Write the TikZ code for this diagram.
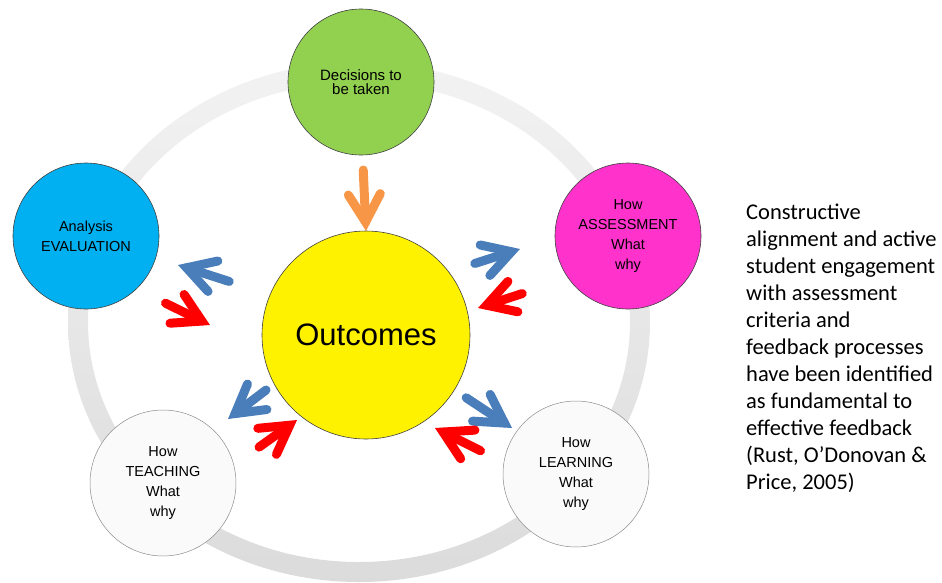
\documentclass[tikz,border=0pt]{standalone}
\usepackage{fontspec}
\setmainfont{Liberation Sans}
\newfontfamily\carlito{Carlito}
\usetikzlibrary{calc}

\definecolor{ringgreen}{HTML}{92D050}
\definecolor{ringcyan}{HTML}{00B0F0}
\definecolor{ringpink}{HTML}{FF33CC}
\definecolor{arrowblue}{HTML}{4A7EBB}
\definecolor{arroworange}{HTML}{F79646}

\tikzset{
  bubble/.style={circle, draw=black!75, line width=0.6pt, minimum size=146pt,
    inner sep=0pt, align=center, font=\fontsize{14.5}{20}\selectfont},
  whitebubble/.style={bubble, draw=black!45, line width=0.5pt, fill=black!2},
  fatstroke/.style={line width=9pt, line cap=round, line join=miter}
}

% thick arrow with open head: colour, tail, tip
\newcommand\bigarrow[3]{
  \coordinate (v) at ($(#3)!9pt!(#2)$);
  \draw[#1, fatstroke] ($(#2)!5pt!(#3)$) -- (v);
  \draw[#1, fatstroke] ($(v)!32pt!30:(#2)$) -- (v) -- ($(v)!32pt!-30:(#2)$);
}

\begin{document}
\begin{tikzpicture}[x=1pt,y=-1pt]
  \useasboundingbox (0,0) rectangle (942,582);
  % grey ring behind
  \shade[top color=black!5, bottom color=black!14, even odd rule]
    (359,322) ellipse [x radius=291, y radius=260]
    (359,322) ellipse [x radius=271, y radius=240];

  \node[bubble, fill=ringgreen, font=\fontsize{15}{14.5}\selectfont] (decide) at (361,82) {Decisions to\\be taken};
  \node[bubble, fill=ringcyan] (evaluate) at (86,236) {Analysis\\EVALUATION};
  \node[bubble, fill=ringpink] (assess) at (628,236) {How\\ASSESSMENT\\What\\why};
  \node[whitebubble] (teach) at (163,483) {How\\TEACHING\\What\\why};
  \node[whitebubble] (learn) at (576,474) {How\\LEARNING\\What\\why};
  \node[bubble, fill=yellow, minimum size=208pt, font=\fontsize{31}{36}\selectfont] (outcomes) at (366,335) {Outcomes};

  \coordinate (decideS) at (363,165);   \coordinate (decideE) at (366,231);
  \coordinate (toEvalS) at (234,283);   \coordinate (toEvalE) at (178,265);
  \coordinate (fromEvalS) at (161,301); \coordinate (fromEvalE) at (210,325);
  \coordinate (toAssS) at (470,265);    \coordinate (toAssE) at (520,249);
  \coordinate (fromAssS) at (527,292);  \coordinate (fromAssE) at (478,308);
  \coordinate (toTeachS) at (270,387);  \coordinate (toTeachE) at (228,419);
  \coordinate (fromTeachS) at (255,450);\coordinate (fromTeachE) at (297,420);
  \coordinate (toLearnS) at (462,395);  \coordinate (toLearnE) at (512,428);
  \coordinate (fromLearnS) at (485,453);\coordinate (fromLearnE) at (435,428);

  \bigarrow{arroworange}{decideS}{decideE}
  \bigarrow{arrowblue}{toEvalS}{toEvalE}
  \bigarrow{red}{fromEvalS}{fromEvalE}
  \bigarrow{arrowblue}{toAssS}{toAssE}
  \bigarrow{red}{fromAssS}{fromAssE}
  \bigarrow{arrowblue}{toTeachS}{toTeachE}
  \bigarrow{red}{fromTeachS}{fromTeachE}
  \bigarrow{arrowblue}{toLearnS}{toLearnE}
  \bigarrow{red}{fromLearnS}{fromLearnE}

  \node[anchor=north west, align=left, inner sep=0pt,
    font=\carlito\fontsize{22.5}{27}\selectfont] (quote) at (746,204)
    {Constructive\\alignment and active\\student engagement\\with assessment\\criteria and\\feedback processes\\have been identified\\as fundamental to\\effective feedback\\(Rust, O’Donovan \&\\Price, 2005)};
\end{tikzpicture}
\end{document}
